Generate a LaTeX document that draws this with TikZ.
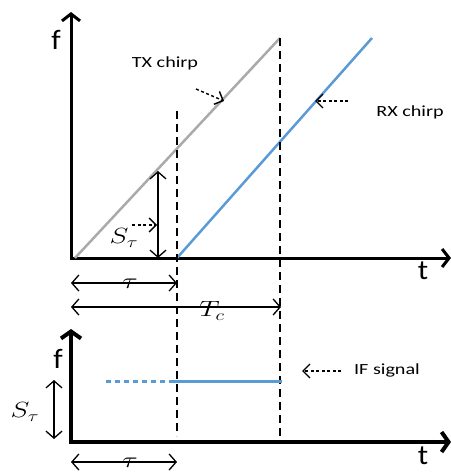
\documentclass[tikz,border=0pt]{standalone}
\usepackage{fix-cm}
\usepackage{fontspec}
\setmainfont{Carlito}
\usetikzlibrary{arrows.meta}
\definecolor{txgray}{RGB}{170,170,170}
\definecolor{rxblue}{RGB}{91,155,213}
\begin{document}
\begin{tikzpicture}[x=1pt,y=-1pt,
  axis/.style={line width=3pt,line join=miter,{Straight Barb[length=7pt,width=18pt,line width=3pt]}-{Straight Barb[length=7pt,width=18pt,line width=3pt]}},
  axisb/.style={line width=4.5pt,line join=miter,{Straight Barb[length=7pt,width=20pt,line width=4pt]}-{Straight Barb[length=7pt,width=20pt,line width=4pt]}},
  dim/.style={line width=1.3pt,{Straight Barb[length=7pt,width=16pt]}-{Straight Barb[length=7pt,width=16pt]}},
  pointer/.style={line width=1.4pt,dash pattern=on 3pt off 2.5pt,-{Straight Barb[length=7pt,width=14pt]}},
  guide/.style={line width=1.1pt,dash pattern=on 8pt off 5pt},
  lbl/.style={font=\fontsize{15.5}{15.5}\selectfont,xscale=1.3},
  axlbl/.style={font=\fontsize{28}{28}\selectfont,xscale=1.1},
  mlbl/.style={font=\fontsize{22}{22}\selectfont,xscale=1.3}]
\useasboundingbox (0,0) rectangle (450,473);
% top axes
\coordinate (Y1) at (71,12);
\coordinate (O1) at (71,258);
\coordinate (X1) at (451,258);
\draw[axis] (Y1) -- (O1) -- (X1);
\node[axlbl] (f1) at (56,40) {f};
\node[axlbl] (t1) at (423,271) {t};
% chirps
\coordinate (tx0) at (75,258);
\coordinate (tx1) at (280,38);
\coordinate (rx0) at (177,258);
\coordinate (rx1) at (372,38);
\draw[txgray,line width=2.5pt] (tx0) -- (tx1);
\draw[rxblue,line width=2.5pt] (rx0) -- (rx1);
% guides
\coordinate (g1a) at (177,111);
\coordinate (g1b) at (177,436);
\coordinate (g2a) at (280,38);
\coordinate (g2b) at (280,442);
\draw[guide] (g1a) -- (g1b);
\draw[guide] (g2a) -- (g2b);
% labels top
\node[lbl] (txl) at (165,63) {TX chirp};
\coordinate (txp0) at (196,89);
\coordinate (txp1) at (224,101);
\draw[pointer] (txp0) -- (txp1);
\node[lbl] (rxl) at (410,112) {RX chirp};
\coordinate (rxp0) at (348,101);
\coordinate (rxp1) at (315,101);
\draw[pointer] (rxp0) -- (rxp1);
% S tau top
\coordinate (sa) at (158,171);
\coordinate (sb) at (158,258);
\draw[dim] (sa) -- (sb);
\coordinate (sp0) at (132,225);
\coordinate (sp1) at (157,225);
\draw[pointer] (sp0) -- (sp1);
\node[mlbl] (st1) at (124,238) {$S_\tau$};
% tau and Tc
\coordinate (ta) at (71,283);
\coordinate (tb) at (177,283);
\draw[dim] (ta) -- (tb);
\node[mlbl] (tau1) at (130,284) {$\tau$};
\coordinate (ca) at (71,307);
\coordinate (cb) at (281,307);
\draw[dim] (ca) -- (cb);
\node[mlbl] (tc) at (212,311) {$T_c$};
% bottom axes
\coordinate (Y2) at (71,329);
\coordinate (O2) at (71,442);
\coordinate (X2) at (451,442);
\draw[axisb] (Y2) -- (O2) -- (X2);
\node[axlbl] (f2) at (58,359) {f};
\node[axlbl] (t2) at (423,456) {t};
% IF signal
\coordinate (if0) at (106,381);
\coordinate (if1) at (173,381);
\coordinate (if2) at (282,381);
\draw[rxblue,line width=3pt,dash pattern=on 5pt off 4pt] (if0) -- (if1);
\draw[rxblue,line width=3pt] (if1) -- (if2);
\coordinate (ip0) at (341,371);
\coordinate (ip1) at (302,371);
\draw[pointer] (ip0) -- (ip1);
\node[lbl] (ifl) at (387,370) {IF signal};
% S tau bottom
\coordinate (s2a) at (54,380);
\coordinate (s2b) at (54,439);
\draw[dim] (s2a) -- (s2b);
\node[mlbl] (st2) at (25,412) {$S_\tau$};
% tau bottom
\coordinate (t2a) at (71,462);
\coordinate (t2b) at (177,462);
\draw[dim] (t2a) -- (t2b);
\node[mlbl] (tau2) at (130,463) {$\tau$};
\end{tikzpicture}
\end{document}
